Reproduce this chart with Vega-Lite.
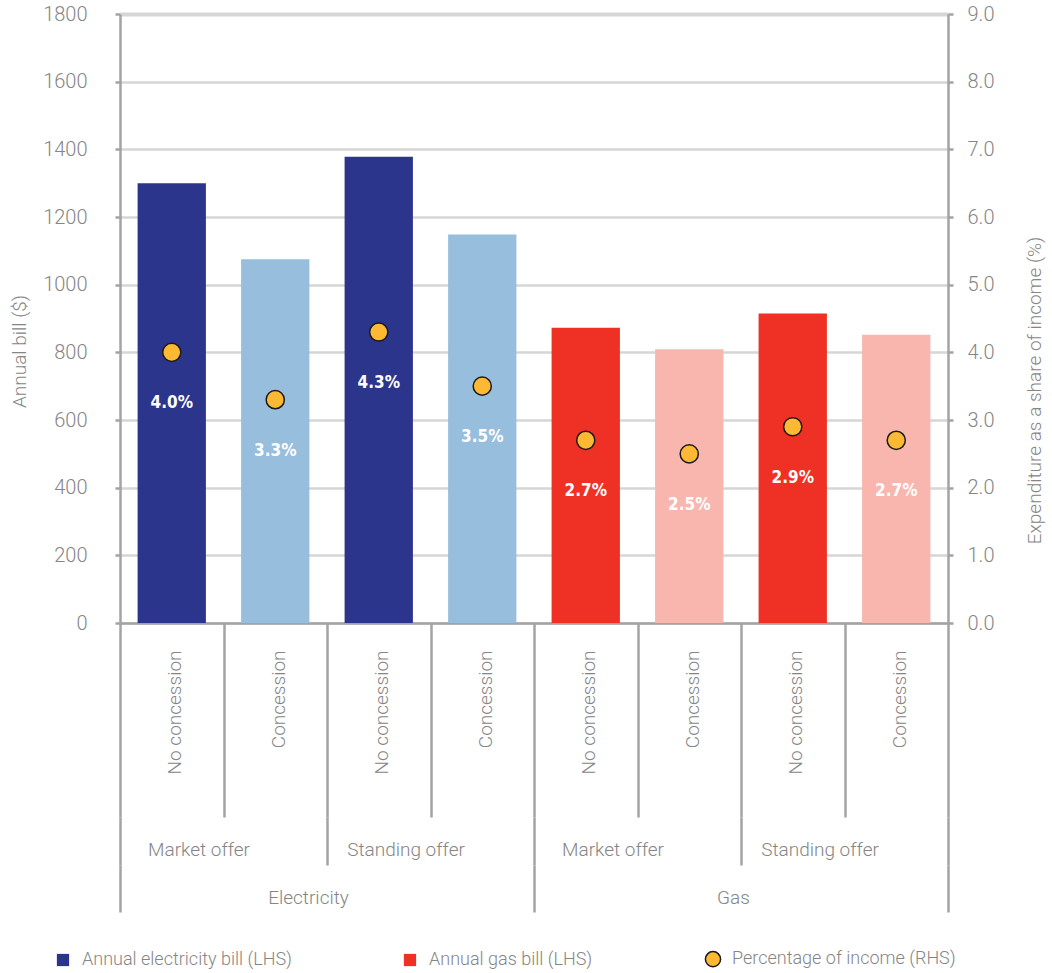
{
  "$schema": "https://vega.github.io/schema/vega-lite/v6.json",
  "autosize": "none",
  "padding": {"left": 120, "top": 14, "right": 104, "bottom": 350},
  "width": 828,
  "height": 609,
  "background": "white",
  "config": {
    "view": {"stroke": null},
    "font": "Roboto",
    "axis": {
      "labelFont": "Roboto",
      "labelFontWeight": 300,
      "labelFontSize": 19,
      "labelColor": "#858585",
      "titleFont": "Roboto",
      "titleFontWeight": 300,
      "titleFontSize": 19,
      "titleColor": "#858585",
      "domainColor": "#a3a3a3",
      "domainWidth": 2.5,
      "tickColor": "#a3a3a3",
      "tickWidth": 2.5,
      "labelOverlap": false
    },
    "legend": {
      "labelFont": "Roboto",
      "labelFontWeight": 300,
      "labelFontSize": 18,
      "labelColor": "#858585",
      "labelLimit": 0
    },
    "scale": {"bandPaddingInner": 0, "bandPaddingOuter": 0}
  },
  "data": {
    "values": [
      {"fuel": "Electricity", "group": "Electricity|Market offer", "item": "Electricity|Market offer|No concession", "series": "Annual electricity bill (LHS)", "bill": 1300, "pct": 4.0},
      {"fuel": "Electricity", "group": "Electricity|Market offer", "item": "Electricity|Market offer|Concession", "series": "Electricity concession bill", "bill": 1075, "pct": 3.3},
      {"fuel": "Electricity", "group": "Electricity|Standing offer", "item": "Electricity|Standing offer|No concession", "series": "Annual electricity bill (LHS)", "bill": 1378, "pct": 4.3},
      {"fuel": "Electricity", "group": "Electricity|Standing offer", "item": "Electricity|Standing offer|Concession", "series": "Electricity concession bill", "bill": 1148, "pct": 3.5},
      {"fuel": "Gas", "group": "Gas|Market offer", "item": "Gas|Market offer|No concession", "series": "Annual gas bill (LHS)", "bill": 873, "pct": 2.7},
      {"fuel": "Gas", "group": "Gas|Market offer", "item": "Gas|Market offer|Concession", "series": "Gas concession bill", "bill": 809, "pct": 2.5},
      {"fuel": "Gas", "group": "Gas|Standing offer", "item": "Gas|Standing offer|No concession", "series": "Annual gas bill (LHS)", "bill": 915, "pct": 2.9},
      {"fuel": "Gas", "group": "Gas|Standing offer", "item": "Gas|Standing offer|Concession", "series": "Gas concession bill", "bill": 852, "pct": 2.7}
    ]
  },
  "layer": [
    {
      "layer": [
        {
          "mark": {"type": "bar", "width": {"band": 0.66}},
          "encoding": {
            "x": {
              "field": "item", "type": "nominal", "sort": null,
              "scale": {"paddingInner": 0, "paddingOuter": 0},
              "axis": {
                "orient": "bottom", "title": null,
                "labelExpr": "split(datum.label, '|')[2]",
                "labelAngle": 270,
                "labelOffset": 3,
                "tickBand": "extent", "tickSize": 194,
                "labelPadding": -167
              }
            },
            "y": {
              "field": "bill", "type": "quantitative",
              "scale": {"domain": [0, 1800], "nice": false},
              "axis": {
                "orient": "left",
                "values": [0, 200, 400, 600, 800, 1000, 1200, 1400, 1600, 1800],
                "format": "d",
                "labelFontSize": 20,
                "tickSize": 5, "labelPadding": 28,
                "grid": true, "gridColor": "#d6d6d6",
                "gridWidth": {"condition": {"test": "datum.value === 1800", "value": 4}, "value": 2.5},
                "title": "Annual bill ($)",
                "titleAngle": 270, "titleX": -101, "titleY": 337,
                "titleAlign": "center", "titleBaseline": "middle"
              }
            },
            "color": {
              "field": "series", "type": "nominal",
              "scale": {
                "domain": ["Annual electricity bill (LHS)", "Annual gas bill (LHS)", "Percentage of income (RHS)", "Electricity concession bill", "Gas concession bill"],
                "range": ["#2C358C", "#EE3124", "#FDB933", "#98BEDD", "#F8B6AF"]
              },
              "legend": {
                "values": ["Annual electricity bill (LHS)", "Annual gas bill (LHS)", "Percentage of income (RHS)"],
                "title": null,
                "orient": "none", "legendX": -66, "legendY": 936,
                "direction": "horizontal",
                "columnPadding": 109,
                "symbolSize": 150,
                "labelOffset": 10,
                "symbolType": "square",
                "encode": {
                  "symbols": {
                    "update": {
                      "shape": {"signal": "datum.value === 'Percentage of income (RHS)' ? 'circle' : 'square'"},
                      "size": {"signal": "datum.value === 'Percentage of income (RHS)' ? 230 : 150"},
                      "stroke": {"signal": "datum.value === 'Percentage of income (RHS)' ? '#1a1a1a' : null"},
                      "strokeWidth": {"value": 1.5}
                    }
                  }
                }
              }
            }
          }
        },
        {
          "layer": [
            {
              "mark": {"type": "point", "filled": true, "size": 330, "stroke": "#1a1a1a", "strokeWidth": 1.5, "opacity": 1},
              "encoding": {
                "x": {"field": "item", "type": "nominal", "sort": null, "scale": {"paddingInner": 0, "paddingOuter": 0}},
                "y": {
                  "field": "pct", "type": "quantitative",
                  "scale": {"domain": [0, 9], "nice": false},
                  "axis": {
                    "orient": "right",
                    "values": [0, 1, 2, 3, 4, 5, 6, 7, 8, 9],
                    "format": ".1f",
                    "labelFontSize": 20,
                    "tickSize": 5, "labelPadding": 14,
                    "grid": false,
                    "title": "Expenditure as a share of income (%)",
                    "titleAngle": 270, "titleX": 86, "titleY": 376,
                    "titleAlign": "center", "titleBaseline": "middle"
                  }
                },
                "color": {"datum": "Percentage of income (RHS)"}
              }
            },
            {
              "transform": [{"calculate": "format(datum.pct, '.1f') + '%'", "as": "pct_label"}],
              "mark": {"type": "text", "color": "white", "font": "DejaVu Sans Condensed", "fontWeight": "bold", "fontSize": 17, "dy": 51, "baseline": "middle"},
              "encoding": {
                "x": {"field": "item", "type": "nominal", "sort": null, "scale": {"paddingInner": 0, "paddingOuter": 0}},
                "y": {"field": "pct", "type": "quantitative"},
                "text": {"field": "pct_label"}
              }
            }
          ]
        }
      ],
      "resolve": {"scale": {"y": "independent"}, "axis": {"y": "independent"}}
    },
    {
      "mark": {"type": "text", "text": ""},
      "encoding": {
        "x": {
          "field": "group", "type": "nominal", "sort": null,
          "scale": {"paddingInner": 0, "paddingOuter": 0},
          "axis": {
            "orient": "bottom", "offset": 194, "domain": false, "title": null,
            "labelExpr": "split(datum.label, '|')[1]",
            "labelAngle": 0, "labelBaseline": "top",
            "labelOffset": -25,
            "tickBand": "extent", "tickSize": 48,
            "labelPadding": -25
          }
        }
      }
    },
    {
      "mark": {"type": "text", "text": ""},
      "encoding": {
        "x": {
          "field": "fuel", "type": "nominal", "sort": null,
          "scale": {"paddingInner": 0, "paddingOuter": 0},
          "axis": {
            "orient": "bottom", "offset": 242, "domain": false, "title": null,
            "labelAngle": 0, "labelBaseline": "top",
            "labelOffset": {"condition": {"test": "datum.label === 'Gas'", "value": -8}, "value": -19},
            "tickBand": "extent", "tickSize": 47,
            "labelPadding": -24
          }
        }
      }
    }
  ],
  "resolve": {"scale": {"x": "independent", "y": "independent"}, "axis": {"x": "independent"}}
}
